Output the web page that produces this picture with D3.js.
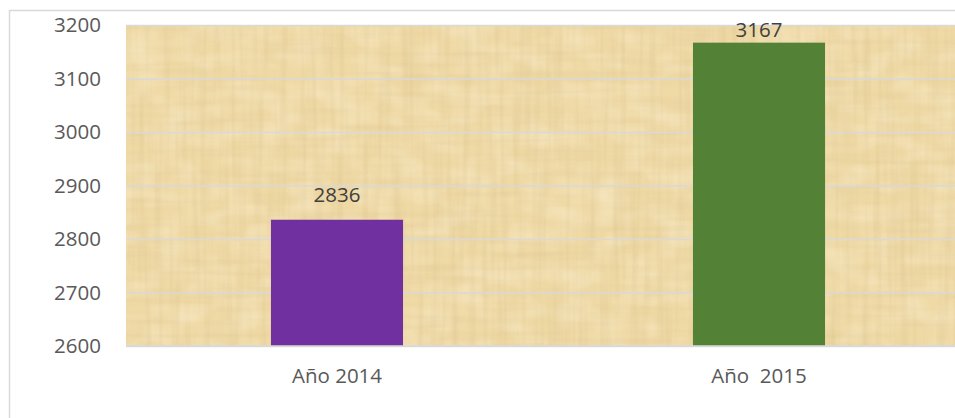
<!DOCTYPE html>
<html>
<head>
<meta charset="utf-8">
<script src="https://cdn.jsdelivr.net/npm/d3@7"></script>
<style>
  body { margin: 0; background: #fff; }
  text { font-family: "Open Sans", sans-serif; }
</style>
</head>
<body>
<div id="chart"></div>
<script>
// chart data
const years = ["Año 2014", "Año  2015"];
const totals = [2836, 3167];
const barColors = ["#7030A0", "#538135"];
const yTicks = [2600, 2700, 2800, 2900, 3000, 3100, 3200];

const svgWidth = 955;
const svgHeight = 418;

const margin = { top: 25, left: 126, bottom: 72 };
const plotWidth = 844;   // the plot runs past the right edge of the picture
const plotHeight = svgHeight - margin.top - margin.bottom;

const svg = d3.select("#chart")
  .append("svg")
  .attr("width", svgWidth)
  .attr("height", svgHeight);

// papyrus-like texture
const defs = svg.append("defs");

function fibreFilter(id, freq, seed, matrix, blur) {
  const f = defs.append("filter").attr("id", id)
    .attr("x", 0).attr("y", 0).attr("width", "100%").attr("height", "100%");
  f.append("feTurbulence")
    .attr("type", "fractalNoise")
    .attr("baseFrequency", freq)
    .attr("numOctaves", 2)
    .attr("seed", seed);
  f.append("feColorMatrix")
    .attr("type", "matrix")
    .attr("values", matrix);
  if (blur) f.append("feGaussianBlur").attr("stdDeviation", blur);
}

fibreFilter("fibreV", "0.16 0.008", 3,
  "0 0 0 0 0.62  0 0 0 0 0.47  0 0 0 0 0.22  0 0 0 -1.6 0.95", 0.6);
fibreFilter("fibreH", "0.008 0.15", 7,
  "0 0 0 0 0.66  0 0 0 0 0.5  0 0 0 0 0.25  0 0 0 -1.6 0.9", 0.6);
fibreFilter("blotch", "0.03 0.05", 11,
  "0 0 0 0 1  0 0 0 0 0.94  0 0 0 0 0.77  0 0 0 -1.2 0.75", 0);

// outer chart border
svg.append("rect")
  .attr("x", 9.5)
  .attr("y", 10.5)
  .attr("width", svgWidth)
  .attr("height", svgHeight)
  .attr("fill", "none")
  .attr("stroke", "#D9D9D9")
  .attr("stroke-width", 1.5);

const chartGroup = svg.append("g")
  .attr("transform", `translate(${margin.left}, ${margin.top})`);

// plot background
chartGroup.append("rect")
  .attr("width", plotWidth)
  .attr("height", plotHeight)
  .attr("fill", "#EFD9A5");
chartGroup.append("rect")
  .attr("width", plotWidth)
  .attr("height", plotHeight)
  .attr("filter", "url(#blotch)")
  .attr("opacity", 0.6);
chartGroup.append("rect")
  .attr("width", plotWidth)
  .attr("height", plotHeight)
  .attr("filter", "url(#fibreV)")
  .attr("opacity", 0.3);
chartGroup.append("rect")
  .attr("width", plotWidth)
  .attr("height", plotHeight)
  .attr("filter", "url(#fibreH)")
  .attr("opacity", 0.25);

// scales
const xBandScale = d3.scaleBand()
  .domain(years)
  .range([0, plotWidth])
  .paddingInner(0.687)
  .paddingOuter(0.3435);

const yLinearScale = d3.scaleLinear()
  .domain([2600, 3200])
  .range([plotHeight, 0]);

// gridlines
chartGroup.append("g")
  .call(d3.axisLeft(yLinearScale).tickValues(yTicks).tickSize(-plotWidth).tickFormat(""))
  .call(g => g.select(".domain").remove())
  .call(g => g.selectAll("line")
    .attr("stroke", "#D9D9D9")
    .attr("stroke-width", 1.5));

// y axis labels
chartGroup.append("g")
  .attr("transform", "translate(-22, 0)")
  .call(d3.axisLeft(yLinearScale).tickValues(yTicks).tickSize(0).tickFormat(d3.format("d")))
  .call(g => g.select(".domain").remove())
  .call(g => g.selectAll("text")
    .attr("fill", "#595959")
    .attr("font-size", "20.5px")
    .attr("font-family", "'Open Sans', sans-serif"));

// bars
chartGroup.selectAll(".bar")
  .data(totals)
  .enter()
  .append("rect")
  .attr("class", "bar")
  .attr("x", (d, i) => xBandScale(years[i]))
  .attr("y", d => yLinearScale(d))
  .attr("width", xBandScale.bandwidth())
  .attr("height", d => plotHeight - yLinearScale(d))
  .attr("fill", (d, i) => barColors[i]);

// bottom axis line
chartGroup.append("line")
  .attr("x1", 0)
  .attr("x2", plotWidth)
  .attr("y1", plotHeight)
  .attr("y2", plotHeight)
  .attr("stroke", "#D9D9D9")
  .attr("stroke-width", 1.5);

// value labels (kept inside the chart area, like Excel does)
chartGroup.selectAll(".value")
  .data(totals)
  .enter()
  .append("text")
  .attr("class", "value")
  .attr("x", (d, i) => xBandScale(years[i]) + xBandScale.bandwidth() / 2)
  .attr("y", d => Math.max(yLinearScale(d) - 18, 12))
  .attr("text-anchor", "middle")
  .attr("fill", "#404040")
  .attr("font-size", "20.5px")
  .text(d => d);

// x axis labels
chartGroup.append("g")
  .attr("transform", `translate(0, ${plotHeight})`)
  .call(d3.axisBottom(xBandScale).tickSize(0).tickPadding(22))
  .call(g => g.select(".domain").remove())
  .call(g => g.selectAll("text")
    .attr("fill", "#595959")
    .attr("font-size", "20.5px")
    .attr("font-family", "'Open Sans', sans-serif")
    .style("white-space", "pre"));
</script>
</body>
</html>
